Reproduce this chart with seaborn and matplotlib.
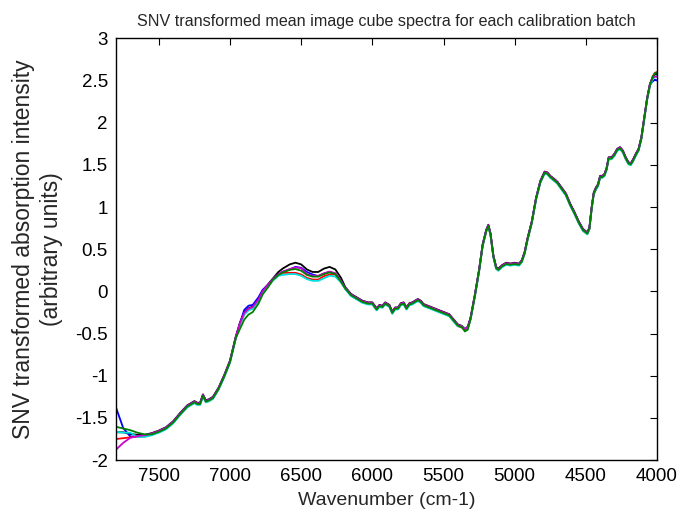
import numpy as np
import pandas as pd
import matplotlib
matplotlib.use("Agg")
import matplotlib.pyplot as plt
import seaborn as sns

# mean SNV spectrum (wavenumber, intensity)
wavenumber = [7800, 7750, 7700, 7650, 7600, 7550, 7500, 7450, 7400, 7350,
              7300, 7270, 7250, 7230, 7210, 7190, 7170, 7150, 7120, 7080,
              7040, 7000, 6960, 6930, 6900, 6870, 6840, 6800, 6770, 6730,
              6700, 6660, 6630, 6580, 6540, 6500, 6460, 6420, 6380, 6340,
              6300, 6260, 6220, 6190, 6150, 6110, 6070, 6030, 6000, 5970,
              5950, 5930, 5910, 5880, 5860, 5840, 5820, 5800, 5780, 5760,
              5740, 5720, 5700, 5680, 5660, 5640, 5610, 5580, 5550, 5520,
              5490, 5460, 5430, 5400, 5370, 5350, 5330, 5310, 5280, 5250,
              5225, 5200, 5185, 5170, 5150, 5130, 5115, 5090, 5060, 5030,
              5000, 4970, 4950, 4930, 4910, 4880, 4850, 4820, 4790, 4770,
              4750, 4720, 4700, 4670, 4640, 4610, 4580, 4550, 4520, 4490,
              4475, 4460, 4445, 4430, 4415, 4400, 4385, 4370, 4355, 4340,
              4320, 4300, 4280, 4260, 4240, 4220, 4200, 4185, 4170, 4150,
              4130, 4110, 4090, 4070, 4050, 4030, 4015, 4000]
mean_spectrum = [-1.68, -1.68, -1.70, -1.71, -1.71, -1.69, -1.66, -1.62, -1.55, -1.45,
                 -1.36, -1.33, -1.31, -1.33, -1.33, -1.23, -1.30, -1.29, -1.26, -1.15,
                 -1.00, -0.83, -0.55, -0.38, -0.26, -0.21, -0.19, -0.10, 0.00, 0.08,
                 0.14, 0.20, 0.23, 0.26, 0.27, 0.25, 0.20, 0.18, 0.18, 0.21,
                 0.23, 0.21, 0.12, 0.04, -0.04, -0.08, -0.12, -0.14, -0.14, -0.21,
                 -0.17, -0.18, -0.14, -0.17, -0.25, -0.20, -0.20, -0.15, -0.14, -0.20,
                 -0.15, -0.14, -0.12, -0.10, -0.12, -0.16, -0.18, -0.20, -0.22, -0.24,
                 -0.26, -0.28, -0.34, -0.40, -0.42, -0.45, -0.43, -0.32, -0.05, 0.25,
                 0.55, 0.72, 0.78, 0.68, 0.42, 0.28, 0.26, 0.30, 0.33, 0.32,
                 0.33, 0.32, 0.36, 0.46, 0.62, 0.82, 1.10, 1.30, 1.41, 1.40,
                 1.36, 1.32, 1.29, 1.22, 1.15, 1.03, 0.93, 0.82, 0.73, 0.69,
                 0.75, 0.98, 1.16, 1.22, 1.26, 1.36, 1.36, 1.38, 1.45, 1.58,
                 1.58, 1.62, 1.68, 1.70, 1.66, 1.58, 1.52, 1.51, 1.55, 1.62,
                 1.68, 1.82, 2.05, 2.28, 2.45, 2.53, 2.56, 2.57]

batches = ["black", "blue", "red", "cyan", "magenta", "green"]
batch_colors = ["#000000", "#0000ff", "#ff0000", "#00e0e0", "#d000d0", "#008000"]

# small overall shift of each batch relative to the mean
batch_shift = {"black": 0.01, "blue": 0.0, "red": -0.01,
               "cyan": -0.015, "magenta": 0.005, "green": -0.005}

# extra deviations where batches visibly separate (wavenumber: offset)
batch_dev = {
    "black": {6580: 0.05, 6540: 0.06, 6500: 0.06, 6460: 0.05, 6420: 0.04,
              6380: 0.04, 6340: 0.05, 6300: 0.05, 6260: 0.04, 6220: 0.03,
              6630: 0.03, 6660: 0.02},
    "blue": {7800: 0.30, 7750: 0.06, 7700: -0.02, 7650: -0.01,
             6900: 0.04, 6870: 0.04, 6840: 0.03, 6800: 0.03, 6770: 0.02,
             6540: 0.02, 6500: 0.03, 6460: 0.03, 6420: 0.02,
             4030: -0.04, 4015: -0.05, 4000: -0.07},
    "red": {7800: -0.06, 7750: -0.05, 7700: -0.02,
            6580: -0.03, 6540: -0.04, 6500: -0.04, 6460: -0.03, 6420: -0.03,
            6380: -0.03, 6340: -0.02, 6300: -0.02,
            4030: 0.03, 4015: 0.04, 4000: 0.04},
    "cyan": {7800: 0.03, 7750: 0.02, 7700: 0.04,
             6630: -0.02, 6580: -0.04, 6540: -0.05, 6500: -0.05, 6460: -0.04,
             6420: -0.04, 6380: -0.04, 6340: -0.04, 6300: -0.03, 6260: -0.02,
             5370: 0.02, 5350: 0.03},
    "magenta": {7800: -0.20, 7750: -0.12, 7700: -0.04, 7650: -0.01,
                6540: 0.01, 6500: 0.02, 4015: -0.02, 4000: -0.03},
    "green": {7800: 0.08, 7750: 0.06, 7700: 0.06, 7650: 0.04, 7600: 0.02,
              6930: -0.06, 6900: -0.07, 6870: -0.06, 6840: -0.05, 6800: -0.04,
              6770: -0.03, 6730: -0.02, 5350: -0.02, 5330: -0.02,
              4030: 0.02, 4015: 0.03, 4000: 0.03},
}

rows = []
for b in batches:
    for w, v in zip(wavenumber, mean_spectrum):
        rows.append({"wavenumber": w, "intensity": v + batch_shift[b] + batch_dev[b].get(w, 0.0), "batch": b})
df = pd.DataFrame(rows)

sns.set_style("white")
plt.rcParams["font.family"] = ["Liberation Sans", "DejaVu Sans"]

fig = plt.figure(figsize=(6.83, 5.17), dpi=100)
ax = fig.add_axes([0.170, 0.110, 0.792, 0.816])

sns.lineplot(data=df, x="wavenumber", y="intensity", hue="batch", hue_order=batches,
             palette=batch_colors, estimator=None, sort=False, linewidth=1.3,
             legend=False, ax=ax)

ax.set_xlim(7800, 4000)
ax.set_ylim(-2, 3)
ax.set_xticks([7500, 7000, 6500, 6000, 5500, 5000, 4500, 4000])
ax.set_yticks([-2, -1.5, -1, -0.5, 0, 0.5, 1, 1.5, 2, 2.5, 3])
ax.set_yticklabels(["-2", "-1.5", "-1", "-0.5", "0", "0.5", "1", "1.5", "2", "2.5", "3"])
ax.tick_params(direction="in", top=True, right=True, length=5, width=0.8,
               labelsize=13.5, colors="black", pad=6)
for s in ax.spines.values():
    s.set_color("black")
    s.set_linewidth(1.0)

ax.set_xlabel("Wavenumber (cm-1)", fontsize=14, labelpad=5)
ax.set_ylabel("SNV transformed absorption intensity\n(arbitrary units)", fontsize=16.5,
              labelpad=9, linespacing=1.25)
ax.set_title("SNV transformed mean image cube spectra for each calibration batch",
             fontsize=11.6, pad=9)

fig.savefig("out.png", dpi=100)
